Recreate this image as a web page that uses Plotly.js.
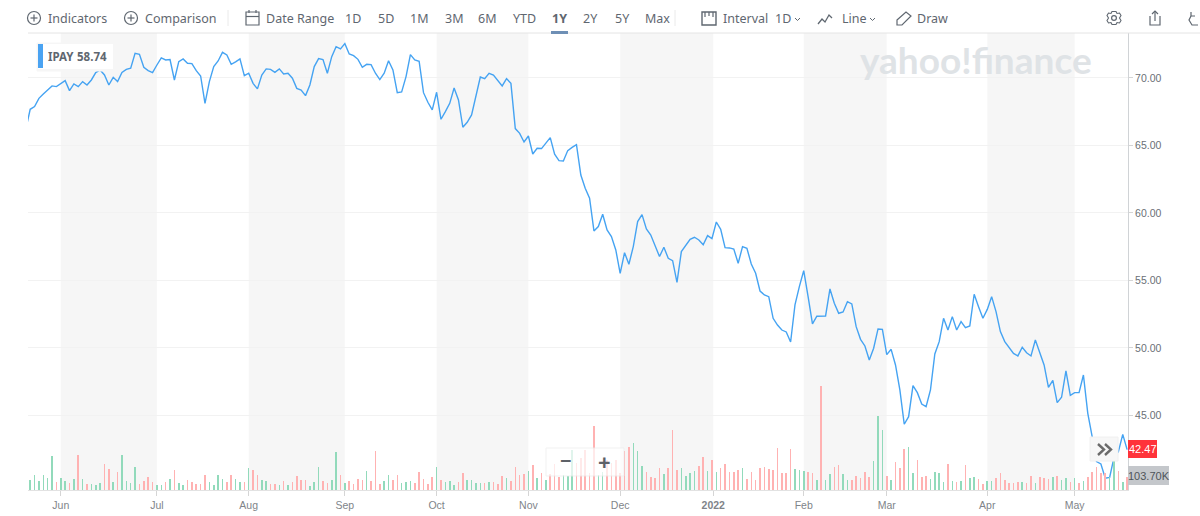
<!DOCTYPE html>
<html><head><meta charset="utf-8">
<script src="https://cdn.plot.ly/plotly-3.0.1.min.js"></script>
<style>html,body{margin:0;padding:0;background:#fff;overflow:hidden}#chart{width:1200px;height:516px}</style>
</head><body><div id="chart"></div>
<script>
const closePrices = [
66.20,67.68,67.88,68.49,68.81,69.11,69.41,69.36,69.60,69.80,
69.06,69.56,69.36,69.73,69.48,69.85,70.40,70.59,70.22,69.48,
70.05,69.73,70.40,70.64,70.72,71.83,71.75,70.79,70.54,70.40,
70.96,71.48,71.33,71.36,69.85,71.21,71.41,71.09,71.06,70.54,
70.15,68.12,69.73,70.84,71.26,71.90,71.70,71.01,71.19,71.41,
70.17,70.35,69.60,69.19,70.22,70.67,70.64,70.42,70.67,70.30,
70.35,69.98,69.23,69.11,
68.69,69.48,70.84,71.43,71.36,70.35,71.58,72.32,72.15,72.54,
71.78,71.65,71.38,70.79,71.01,70.99,70.35,69.88,70.35,71.28,
70.59,68.91,68.96,70.10,71.73,71.33,71.23,68.91,68.20,67.63,
68.94,66.94,67.51,68.12,69.26,68.37,66.35,66.72,67.26,68.62,
70.07,69.95,70.35,70.22,69.80,69.41,69.95,69.60,66.25,65.90,
65.26,65.70,64.37,64.79,64.77,65.16,65.58,64.35,63.88,63.85,
64.62,64.86,65.06,62.81,61.83,61.09,
58.67,58.99,59.90,58.74,58.25,57.26,55.53,57.06,56.20,57.51,
59.36,59.88,58.81,58.37,57.63,56.77,57.46,56.64,56.47,54.86,
57.14,57.63,58.05,58.20,58.00,57.65,58.32,58.10,59.33,58.79,
57.43,57.41,57.33,56.27,57.51,57.38,56.22,55.53,54.22,53.93,53.80,
52.20,51.70,51.33,51.19,50.44,53.19,54.54,55.73,53.80,51.78,52.35,
52.35,52.37,54.37,53.31,52.57,52.67,53.43,53.26,51.58,50.64,
50.15,49.11,49.98,51.41,51.38,49.51,49.90,48.74,46.89,44.35,
44.91,47.21,46.69,45.85,45.65,46.89,49.56,50.47,52.20,51.33,
52.32,51.33,51.95,51.51,51.63,53.98,53.06,52.20,52.86,53.80,
52.69,51.21,50.47,50.02,49.60,49.41,50.05,49.65,49.41,50.59,
49.73,48.74,47.09,47.60,45.95,46.35,48.30,46.49,46.69,46.69,
48.00,45.16,43.43,41.58,41.41,40.35,40.42,41.90,42.32,43.60,42.47
];
// volume, in lots of 8,000 shares
const volumeLots = [
10,15,9,15,12,34,8,12,9,7, 11,35,11,6,6,5,7,26,21,8,
18,35,9,7,23,6,9,13,8,5, 5,8,11,20,7,5,10,8,6,6,
15,8,5,15,11,8,15,11,8,8, 22,20,15,10,9,6,6,5,9,5,
8,14,10,10,4,8,23,9,7,10, 38,15,7,9,6,11,10,19,9,39,
6,9,15,10,15,7,8,9,7,18, 11,6,13,23,10,8,9,5,8,17,
10,10,7,7,7,8,8,6,14,12, 9,23,15,16,19,25,12,17,10,16,
26,13,15,14,40,27,32,40,17,64, 15,18,30,27,30,17,39,43,47,39,
24,18,13,12,22,16,22,60,20,22, 14,17,19,24,33,19,30,18,22,26,
18,18,20,22,11,18,10,22,23,21, 20,42,17,17,41,21,20,19,18,17,
10,104,10,16,23,25,16,10,10,14, 12,18,13,29,74,60,14,10,28,22,
41,43,17,30,13,14,11,18,17,8, 26,9,8,9,25,12,13,11,6,9,
9,12,17,10,7,7,8,8,7,14, 7,13,12,11,13,14,10,12,8,12,
7,9,13,18,23,17,17,13,30,19, 8,13
];
const volumeDirection = (
"GGGGGGRGGR"+"GRGRGGGRRG"+"RGGGGRRRRG"+"GRGRGGRRRR"+"RGGGGRRGGR"+"GRRGGRRGRG"+
"RRRRGGGRRG"+"GRGRRRRGRR"+"RGGRRGGGRR"+"RRRGRGGGRR"+"GGGGRGRRRG"+"RRRRGRGRGR"+
"RRGGGRRRRR"+"GGRRRRRRGG"+"GRRRRGRRRG"+"GGGRRGRGRR"+"RRRGRRRRRR"+"RRRRRGGGRR"+
"GRGGRRGGRR"+"RRRGGGRGRR"+"RGGRRRGGGG"+"RGRGRGGRRG"+"GRRRRRRGRR"+"GRRRGRGGRG"+
"RGRRRRRGGR"+"GR").split("");
const monthLabels = ["Jun","Jul","Aug","Sep","Oct","Nov","Dec","<b>2022</b>","Feb","Mar","Apr","May"];
const monthStartDay = [8,30,51,73,94,115,136,157.3,178,197,220,240];
const priceTicks = [45,50,55,60,65,70];
const rangeButtons = [["1D",353],["5D",386],["1M",419],["3M",454],["6M",487],["YTD",524],["1Y",559],["2Y",590],["5Y",622],["Max",657]];

const L=28,R=1128,T=33,B=490;
const px=x=>(x-L)/(R-L), py=y=>1-(y-T)/(B-T);
const ink="#5f6770";
const tradingDays=closePrices.map((_,i)=>i);

const shapes=[], annotations=[];
function rect(x0,y0,x1,y1,fill,line,layer,op){shapes.push({type:"rect",xref:"paper",yref:"paper",x0:px(x0),x1:px(x1),y0:py(y0),y1:py(y1),fillcolor:fill,opacity:op==null?1:op,line:{color:line||"rgba(0,0,0,0)",width:line?1:0},layer:layer||"above"});}
function stroke(pts,w,c,closed){const d=pts.map((p,i)=>(i?"L":"M")+px(p[0])+","+py(p[1])).join(" ")+(closed?" Z":"");shapes.push({type:"path",xref:"paper",yref:"paper",path:d,line:{color:c||ink,width:w||1.2},layer:"above"});}
function circle(cx,cy,r){shapes.push({type:"circle",xref:"paper",yref:"paper",x0:px(cx-r),x1:px(cx+r),y0:py(cy-r),y1:py(cy+r),line:{color:ink,width:1.2},layer:"above"});}
function label(t,x,y,o){o=o||{};annotations.push({text:t,xref:"paper",yref:"paper",x:px(x),y:py(y),xanchor:o.anchor||"left",yanchor:"middle",showarrow:false,borderpad:0,
 font:{family:o.family||"'Noto Sans',sans-serif",size:o.size||12.5,color:o.color||ink}});}

// alternating month bands
for(let i=0;i+1<monthStartDay.length;i+=2){shapes.push({type:"rect",xref:"x",yref:"paper",x0:monthStartDay[i],x1:monthStartDay[i+1],y0:0,y1:1,fillcolor:"rgba(0,0,0,0.036)",line:{width:0},layer:"below"});}
// toolbar rule
stroke([[28,33],[1200,33]],1,"#e4e4e4");
stroke([[228,10],[228,26]],1,"#eaeaea");
stroke([[675,10],[675,26]],1,"#eaeaea");

// toolbar text and icons
circle(34,18,6.5);stroke([[34,14.5],[34,21.5]]);stroke([[30.5,18],[37.5,18]]);
label("Indicators",47,18);
circle(131,18,6.5);stroke([[131,14.5],[131,21.5]]);stroke([[127.5,18],[134.5,18]]);
label("Comparison",144,18);
stroke([[246,12],[259,12],[259,25],[246,25]],1.2,ink,true);stroke([[246,16.5],[259,16.5]]);stroke([[249,10],[249,13]]);stroke([[256,10],[256,13]]);
label("Date Range",265,18);
rangeButtons.forEach(b=>label(b[0]==="1Y"?"<b>1Y</b>":b[0],b[1],18,{anchor:"center"}));
rect(551,31,568,34,"#6e8fb5");
stroke([[702,12],[716,12],[716,25],[702,25]],1.4,ink,true);stroke([[705,12],[705,17]]);stroke([[709,12],[709,16]]);stroke([[713,12],[713,17]]);
label("Interval",722,18);label("1D",774,18);
stroke([[795,18],[797.5,20.5],[800,18]],1);
stroke([[818,24],[822,19],[825,22],[829,15],[832,18]],1.3);
label("Line",841,18);
stroke([[870,18],[872.5,20.5],[875,18]],1);
stroke([[897,20],[906,12],[911,16],[902,25],[897,25]],1.2,ink,true);
label("Draw",916,18);
// gear, share, reset
circle(1114,18,2.4);
stroke([[1112,11.5],[1116,11.5],[1117,13.5],[1119.5,13],[1121,15.5],[1119.5,18],[1121,20.5],[1119.5,23],[1117,22.5],[1116,24.5],[1112,24.5],[1111,22.5],[1108.5,23],[1107,20.5],[1108.5,18],[1107,15.5],[1108.5,13],[1111,13.5]],1.1,ink,true);
stroke([[1150,16],[1150,25],[1160,25],[1160,16]],1.2);stroke([[1155,11],[1155,21]]);stroke([[1152,14],[1155,11],[1158,14]]);
stroke([[1191,16],[1189,20],[1192,25],[1198,25]],1.2);stroke([[1191,12],[1191,16],[1195,16]],1.2);

// watermark
label("<b>yahoo!finance</b>",859,59,{family:"Lato,sans-serif",size:37,color:"#dfe3e6"});

// symbol badge
rect(37,43,114,71,"#f6f6f6","#f6f6f6");
rect(38,44,113,69,"#ffffff");
rect(38,44,43,68,"#4aa3f2");
label("<b>IPAY</b>",47,57,{size:11.5});
label("<b>58.74</b>",76,57,{size:11.5});

// zoom control
rect(546,448,624,476,"#ffffff","#ededed","above",0.72);
label("<b>−</b>",565.5,460.5,{anchor:"center",size:20,color:"#5d6168"});
label("<b>+</b>",604.5,460.5,{anchor:"center",size:22,color:"#5d6168"});

// collapse button
rect(1090,437,1118,461,"#f7f7f7","#f0f0f0");
stroke([[1098,444],[1104,449.5],[1098,455]],2.4,"#6b6b6b");
stroke([[1105,444],[1111,449.5],[1105,455]],2.4,"#6b6b6b");

// last price and volume flags
rect(1128,440,1157,458,"#ff333a");
label("42.47",1142.5,449,{anchor:"center",family:"'Liberation Sans',sans-serif",size:11,color:"#ffffff"});
rect(1128,466,1169,485,"#c4c7cb");
label("103.70K",1148.5,476,{anchor:"center",family:"'Liberation Sans',sans-serif",size:11,color:"#4f545a"});

const traces=[
 {type:"bar",x:tradingDays.slice(1),y:volumeLots,yaxis:"y2",width:0.36,hoverinfo:"skip",
  marker:{color:volumeDirection.map(d=>d==="G"?"#92dabb":"#ffb2b2"),line:{width:0}}},
 {type:"scatter",mode:"lines",x:tradingDays,y:closePrices,yaxis:"y",hoverinfo:"skip",
  line:{color:"#45a3f2",width:1.4,shape:"linear"}}
];
const layout={
 width:1200,height:516,margin:{l:L,r:1200-R,t:T,b:516-B,pad:0},
 paper_bgcolor:"#fff",plot_bgcolor:"#fff",showlegend:false,bargap:0,
 xaxis:{range:[0.5,252.2],tickmode:"array",tickvals:monthStartDay,ticktext:monthLabels,showgrid:false,zeroline:false,
  ticks:"outside",ticklen:5,tickcolor:"#d5d5d5",showline:true,linecolor:"#e2e2e2",
  tickfont:{family:"'Liberation Sans',sans-serif",size:10.5,color:"#808489"}},
 yaxis:{range:[39.48,73.33],side:"right",tickmode:"array",tickvals:priceTicks,ticktext:priceTicks.map(v=>v.toFixed(2)),
  showgrid:true,gridcolor:"#f2f2f2",gridwidth:1,zeroline:false,ticks:"outside",ticklen:4,tickcolor:"#d5d5d5",showline:true,linecolor:"#d0d3d6",
  tickfont:{family:"'Liberation Sans',sans-serif",size:10.5,color:"#6b7076"}},
 yaxis2:{range:[0,457],overlaying:"y",visible:false,fixedrange:true},
 shapes,annotations
};
Plotly.newPlot("chart",traces,layout,{displayModeBar:false,staticPlot:true});
</script></body></html>
